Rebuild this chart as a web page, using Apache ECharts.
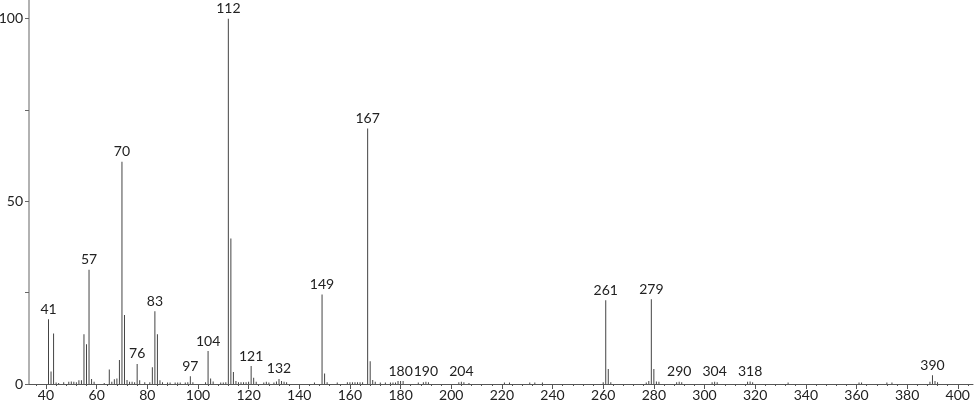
<!DOCTYPE html>
<html>
<head>
<meta charset="utf-8">
<script src="https://cdn.jsdelivr.net/npm/echarts@6/dist/echarts.min.js"></script>
<style>
html,body{margin:0;padding:0;background:#fff;}
#chart{width:974px;height:406px;}
</style>
</head>
<body>
<div id="chart"></div>
<script>
// m/z values of peaks
var mz = [41,42,43,44,45,47,49,50,51,52,53,54,55,56,57,58,59,63,65,66,67,68,69,70,71,72,73,74,75,76,77,79,81,82,83,84,85,86,
  88,89,91,92,93,95,96,97,98,103,104,105,106,109,110,111,112,113,114,115,116,117,118,119,120,121,122,123,126,127,128,130,131,132,133,134,135,
  146,149,150,151,155,159,160,161,162,163,164,165,167,168,169,170,172,174,176,177,178,179,180,181,187,189,190,191,
  203,204,205,207,221,223,231,233,236,260,261,262,263,277,278,279,280,281,282,289,290,291,303,304,305,317,318,319,333,361,362,372,374,389,390,391,392];
// relative intensities (%)
var intensity = [17.7,3.4,13.8,0.4,0.3,0.5,0.6,0.7,0.6,0.5,1.0,1.0,13.6,10.9,31.3,1.4,0.6,0.3,4.0,0.6,1.3,1.5,6.6,60.8,18.9,1.1,0.6,0.6,0.5,5.5,1.0,0.5,0.5,4.6,19.9,13.6,1.0,0.5,
  0.4,0.4,0.4,0.4,0.4,0.4,0.5,2.1,0.5,0.5,9.0,1.5,0.7,0.4,0.4,0.5,100,39.8,3.3,0.8,0.5,0.5,0.5,0.5,0.6,4.9,1.7,0.6,0.4,0.6,0.4,0.4,0.7,1.4,0.8,0.6,0.5,
  0.4,24.5,2.9,0.5,0.4,0.5,0.5,0.5,0.5,0.5,0.5,0.5,69.9,6.2,1.1,0.6,0.4,0.4,0.4,0.4,0.4,0.8,0.8,0.8,0.4,0.5,0.6,0.5,
  0.5,0.6,0.5,0.3,0.4,0.4,0.4,0.4,0.4,0.5,22.9,4.1,0.5,0.4,0.8,23.2,4.1,0.7,0.6,0.5,0.6,0.5,0.5,0.6,0.5,0.6,0.7,0.5,0.4,0.4,0.4,0.4,0.4,0.6,2.4,0.8,0.5];
// peaks carrying a label
var labeled = [41,57,70,76,83,97,104,112,121,132,149,167,180,190,204,261,279,290,304,318,390];
// axis tick labels
var xLabels = [40,60,80,100,120,140,160,180,200,220,240,260,280,300,320,340,360,380,400];
var yTicks = [0,25,50,75,100];
var yLabels = [0,50,100];

var minorTicks = [];
for (var t = 36; t <= 404; t += 4) { if (t % 20 !== 0) minorTicks.push(t); }

var data = mz.map(function (m, i) {
  var item = { value: [m, intensity[i]] };
  if (labeled.indexOf(m) >= 0) item.label = { show: true };
  return item;
});

var FONT = 'Lato';
var chart = echarts.init(document.getElementById('chart'), null, { renderer: 'canvas' });
var gridPos = { left: 29, right: 1, top: 0, bottom: 22, containLabel: false, outerBoundsMode: 'none' };
chart.setOption({
  animation: false,
  backgroundColor: '#ffffff',
  grid: [Object.assign({}, gridPos), Object.assign({}, gridPos)],
  xAxis: [{
    type: 'value', gridIndex: 0, min: 33.3, max: 406,
    axisLine: { show: true, onZero: false, lineStyle: { color: '#555', width: 1 } },
    axisTick: { show: true, length: 5, customValues: xLabels, lineStyle: { color: '#555' } },
    axisLabel: { customValues: xLabels, color: '#222', fontSize: 14, fontFamily: FONT, margin: 4 },
    splitLine: { show: false }
  }, {
    type: 'value', gridIndex: 1, min: 33.3, max: 406,
    axisLine: { show: false, onZero: false },
    axisTick: { show: true, length: 2, customValues: minorTicks, lineStyle: { color: '#555' } },
    axisLabel: { show: false },
    splitLine: { show: false }
  }],
  yAxis: [{
    type: 'value', gridIndex: 0, min: 0, max: 105.1,
    axisLine: { show: true, lineStyle: { color: '#999', width: 1.5 } },
    axisTick: { show: true, length: 4, customValues: yTicks, lineStyle: { color: '#666' } },
    axisLabel: { customValues: yLabels, color: '#222', fontSize: 14, fontFamily: FONT, margin: 6 },
    splitLine: { show: false }
  }, {
    type: 'value', gridIndex: 1, min: 0, max: 105.1, show: false
  }],
  series: [{
    type: 'bar', xAxisIndex: 0, yAxisIndex: 0,
    barWidth: 1,
    itemStyle: { color: '#444' },
    label: {
      show: false, position: 'top', distance: 3,
      color: '#222', fontSize: 14, fontFamily: FONT,
      formatter: function (p) { return String(p.value[0]); }
    },
    data: data
  }]
});
</script>
</body>
</html>
